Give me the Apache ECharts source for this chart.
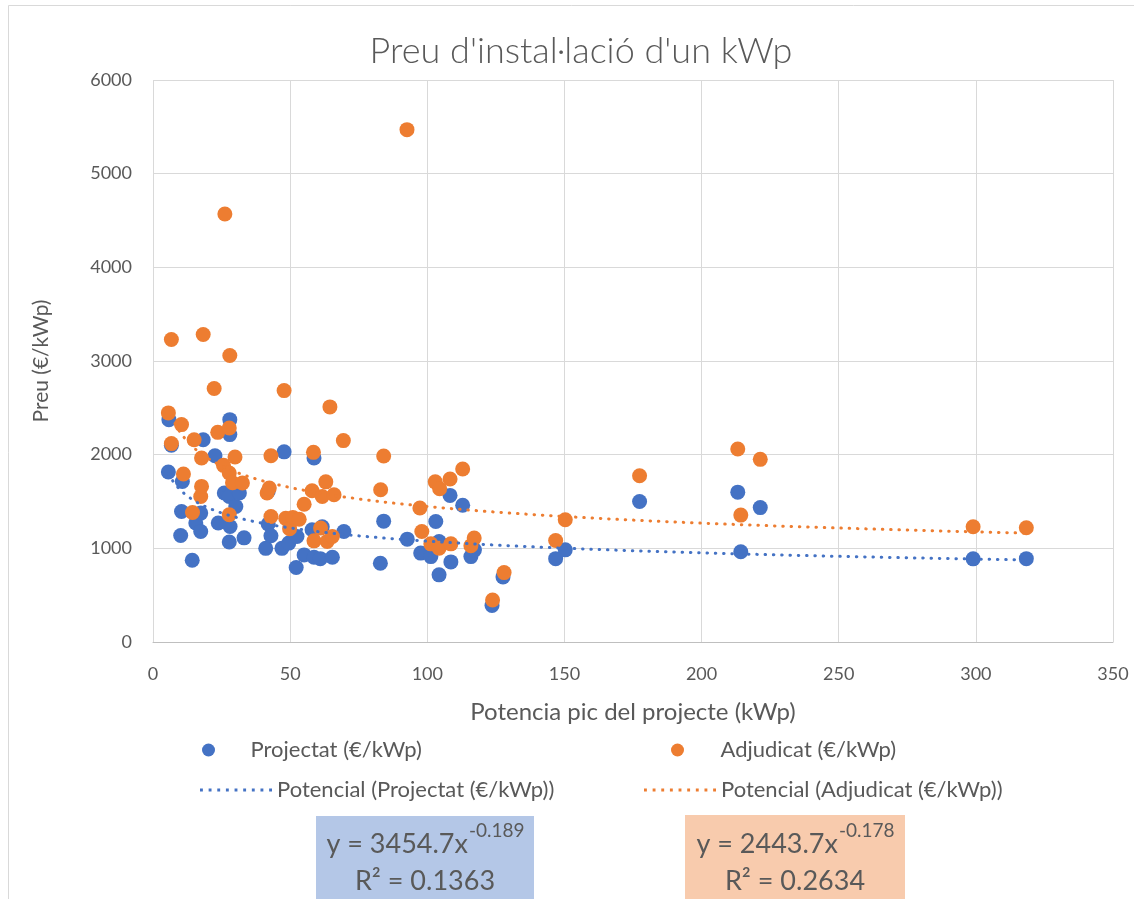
<!DOCTYPE html>
<html>
<head>
<meta charset="utf-8">
<script src="https://cdn.jsdelivr.net/npm/echarts/dist/echarts.min.js"></script>
<style>
html,body{margin:0;padding:0;background:#ffffff;}
#chart{width:1134px;height:899px;}
</style>
</head>
<body>
<div id="chart"></div>
<script>
// ---------- DATA ----------
const chartTitle = "Preu d'instal·lació d'un kWp";
const xAxisName = "Potencia pic del projecte (kWp)";
const yAxisName = "Preu (€/kWp)";
const seriesNames = ["Projectat (€/kWp)", "Adjudicat (€/kWp)", "Potencial (Projectat (€/kWp))", "Potencial (Adjudicat (€/kWp))"];

// Projectat (€/kWp) – blue points
const projX = [5.6, 5.8, 6.7, 10.7, 10.4, 10.1, 14.3, 15.6, 17.4, 17.4, 18.3, 22.6, 23.8, 26.0, 27.8, 28.1, 27.8, 28.0, 28.0, 30.2,
               31.5, 33.2, 41.1, 42.0, 42.0, 43.0, 47.0, 47.8, 49.5, 52.5, 52.2, 55.1, 58.0, 58.7, 58.7, 61.0, 61.7, 65.4, 69.6, 82.9,
               84.1, 92.7, 97.6, 101.3, 103.1, 104.3, 104.3, 108.3, 108.6, 112.9, 115.9, 117.2, 123.6, 127.6, 146.8, 150.3, 177.4, 213.2, 214.3, 221.4,
               299.0, 318.4];
const projY = [1815, 2374, 2100, 1714, 1394, 1137, 873, 1270, 1376, 1180, 2160, 1989, 1270, 1590, 1554, 1233, 1068, 2374, 2214, 1447,
               1590, 1112, 1000, 1260, 1610, 1135, 1000, 2030, 1056, 1126, 795, 930, 1198, 1965, 905, 890, 1230, 905, 1180, 840,
               1290, 1098, 949, 912, 1287, 1073, 717, 1565, 855, 1460, 912, 984, 390, 695, 890, 984, 1500, 1600, 963, 1435,
               888, 890];

// Adjudicat (€/kWp) – orange points
const adjX = [5.6, 6.7, 6.7, 10.4, 11.1, 14.4, 15.0, 17.4, 17.7, 17.7, 18.3, 22.3, 23.6, 25.7, 26.2, 27.8, 27.8, 27.8, 28.0, 29.9,
              29.0, 32.6, 41.6, 42.4, 43.0, 43.0, 47.8, 48.4, 49.8, 51.0, 53.3, 55.1, 58.0, 58.5, 58.7, 61.1, 63.5, 65.4, 61.7, 63.0,
              64.5, 66.0, 69.4, 83.0, 84.1, 92.6, 97.3, 98.0, 101.3, 102.9, 104.5, 104.3, 108.3, 108.6, 112.9, 115.9, 117.1, 123.8, 128.0, 146.8,
              150.3, 177.4, 213.2, 214.3, 221.4, 299.0, 318.4];
const adjY = [2446, 3230, 2118, 2321, 1794, 1383, 2160, 1554, 1964, 1661, 3283, 2706, 2238, 1886, 4570, 2285, 1804, 1358, 3059, 1975,
              1700, 1697, 1590, 1644, 1989, 1340, 2684, 1320, 1210, 1330, 1310, 1470, 1615, 2025, 1080, 1216, 1073, 1126, 1554, 1710,
              2510, 1572, 2150, 1626, 1985, 5470, 1430, 1180, 1048, 1710, 1636, 1002, 1740, 1048, 1847, 1027, 1109, 449, 741, 1083,
              1305, 1775, 2060, 1355, 1950, 1230, 1220];

// Power trendlines y = a * x^b, as drawn in the picture
const blueTrendCoef = [2443.7, -0.178];
const orangeTrendCoef = [3454.7, -0.189];

// Equation boxes text (as printed in the chart)
const blueBoxEq = ["y = 3454.7x", "-0.189", "R² = 0.1363"];
const orangeBoxEq = ["y = 2443.7x", "-0.178", "R² = 0.2634"];

const xTicks = [0, 50, 100, 150, 200, 250, 300, 350];
const yTicks = [0, 1000, 2000, 3000, 4000, 5000, 6000];

// ---------- STYLE ----------
const FONT = 'Lato';
const TXT = '#595959';
const BLUE = '#4472C4';
const ORANGE = '#ED7D31';

function pairs(xs, ys) { return xs.map((x, i) => [x, ys[i]]); }
function trend(coef, xs) {
  const lo = Math.min.apply(null, xs), hi = Math.max.apply(null, xs);
  const pts = [];
  const n = 300;
  for (let i = 0; i <= n; i++) {
    const x = lo + (hi - lo) * i / n;
    pts.push([x, coef[0] * Math.pow(x, coef[1])]);
  }
  return pts;
}

const ctx = document.createElement('canvas').getContext('2d');
function tw(t, size) { ctx.font = size + 'px ' + FONT; return ctx.measureText(t).width; }

function eqBox(x, y, w, h, fill, eq) {
  const cx = x + w / 2;
  const mainSize = 27, supSize = 19;
  const wMain = tw(eq[0], mainSize), wSup = tw(eq[1], supSize);
  const start = cx - (wMain + wSup) / 2;
  return [
    { type: 'rect', shape: { x: x, y: y, width: w, height: h }, style: { fill: fill }, z: 1 },
    { type: 'text', x: start, y: 844, style: { text: eq[0], font: mainSize + 'px ' + FONT, fill: TXT, textAlign: 'left', textVerticalAlign: 'middle' }, z: 2 },
    { type: 'text', x: start + wMain + 1, y: 831, style: { text: eq[1], font: supSize + 'px ' + FONT, fill: TXT, textAlign: 'left', textVerticalAlign: 'middle' }, z: 2 },
    { type: 'text', x: cx, y: 881, style: { text: eq[2], font: mainSize + 'px ' + FONT, fill: TXT, textAlign: 'center', textVerticalAlign: 'middle' }, z: 2 }
  ];
}

// dotted legend icon
let dotPath = 'path://';
for (let i = 0; i < 9; i++) { dotPath += 'M' + (i * 3) + ',0h1v1h-1z '; }

const chart = echarts.init(document.getElementById('chart'), null, { renderer: 'canvas' });

const legendBase = {
  orient: 'horizontal', padding: 0, selectedMode: false,
  textStyle: { fontFamily: FONT, fontSize: 22, color: TXT }
};

chart.setOption({
  animation: false,
  backgroundColor: '#ffffff',
  title: {
    text: chartTitle, left: 576, top: 28, textAlign: 'center',
    textStyle: { fontFamily: FONT, fontWeight: 300, fontSize: 36, color: TXT }
  },
  grid: { left: 153, right: 21, top: 80, bottom: 257, containLabel: false },
  xAxis: {
    type: 'value', min: 0, max: 350, interval: 50,
    name: xAxisName, nameLocation: 'middle', nameGap: 58,
    nameTextStyle: { fontFamily: FONT, fontSize: 24, color: TXT },
    axisLine: { show: true, lineStyle: { color: '#bfbfbf', width: 1 } },
    axisTick: { show: false },
    axisLabel: { margin: 23, fontFamily: FONT, fontSize: 18, color: TXT,
                 formatter: v => xTicks.indexOf(v) >= 0 ? String(v) : '' },
    splitLine: { show: true, lineStyle: { color: '#d9d9d9', width: 1 } }
  },
  yAxis: {
    type: 'value', min: 0, max: 6000, interval: 1000,
    name: yAxisName, nameLocation: 'middle', nameGap: 101, nameRotate: 90,
    nameTextStyle: { fontFamily: FONT, fontSize: 21, color: TXT },
    axisLine: { show: false },
    axisTick: { show: false },
    axisLabel: { margin: 21, fontFamily: FONT, fontSize: 18, color: TXT,
                 formatter: v => yTicks.indexOf(v) >= 0 ? String(v) : '' },
    splitLine: { show: true, lineStyle: { color: '#d9d9d9', width: 1 } }
  },
  legend: [
    Object.assign({}, legendBase, { data: [seriesNames[0]], left: 202, top: 739, itemWidth: 74, itemHeight: 13, icon: 'circle' }),
    Object.assign({}, legendBase, { data: [seriesNames[1]], left: 671, top: 739, itemWidth: 76, itemHeight: 13, icon: 'circle' }),
    Object.assign({}, legendBase, { data: [seriesNames[2]], left: 200, top: 779, itemWidth: 72, itemHeight: 3, icon: dotPath }),
    Object.assign({}, legendBase, { data: [seriesNames[3]], left: 644, top: 779, itemWidth: 72, itemHeight: 3, icon: dotPath })
  ],
  graphic: [
    { type: 'rect', shape: { x: 8.5, y: 5.5, width: 1140, height: 910 }, style: { fill: 'none', stroke: '#d9d9d9', lineWidth: 1 }, silent: true }
  ].concat(eqBox(316, 816, 218, 90, '#B4C7E7', blueBoxEq))
   .concat(eqBox(685, 815, 220, 90, '#F8CBAD', orangeBoxEq)),
  series: [
    { type: 'scatter', name: seriesNames[0], data: pairs(projX, projY), symbol: 'circle', symbolSize: 15,
      itemStyle: { color: BLUE, opacity: 1 }, z: 2 },
    { type: 'scatter', name: seriesNames[1], data: pairs(adjX, adjY), symbol: 'circle', symbolSize: 15,
      itemStyle: { color: ORANGE, opacity: 1 }, z: 3 },
    { type: 'line', name: seriesNames[2], data: trend(blueTrendCoef, projX), symbol: 'none', showSymbol: false, smooth: false,
      lineStyle: { color: BLUE, width: 3, type: [0.5, 7.8], cap: 'round' }, itemStyle: { color: BLUE }, z: 4, silent: true },
    { type: 'line', name: seriesNames[3], data: trend(orangeTrendCoef, adjX), symbol: 'none', showSymbol: false, smooth: false,
      lineStyle: { color: ORANGE, width: 3, type: [0.5, 7.8], cap: 'round' }, itemStyle: { color: ORANGE }, z: 4, silent: true }
  ]
});
</script>
</body>
</html>
